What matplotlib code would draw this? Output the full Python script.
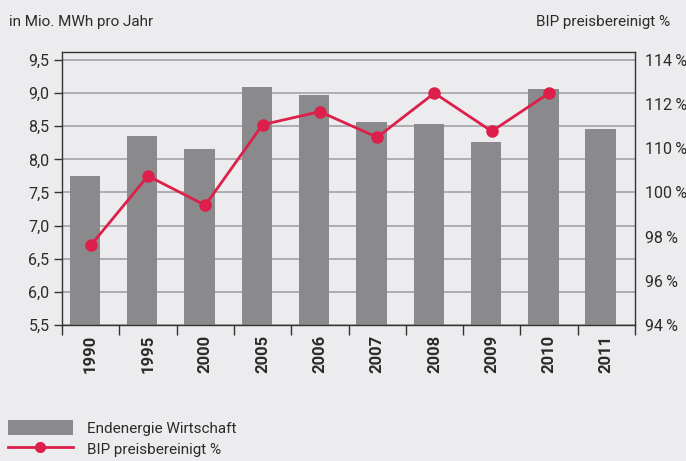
import matplotlib
matplotlib.use("Agg")
import matplotlib.pyplot as plt
from matplotlib.lines import Line2D
from matplotlib.patches import Patch

plt.rcParams['font.family'] = ['Roboto', 'DejaVu Sans']

# data
years = ['1990', '1995', '2000', '2005', '2006', '2007', '2008', '2009', '2010', '2011']
endenergie = [7.75, 8.35, 8.16, 9.09, 8.97, 8.56, 8.53, 8.26, 9.06, 8.46]
# BIP on the right axis (positions of the evenly spaced right ticks)
bip = [97.6, 100.75, 99.42, 103.07, 103.66, 102.5, 104.5, 102.77, 104.5]
left_ticks = [5.5, 6.0, 6.5, 7.0, 7.5, 8.0, 8.5, 9.0, 9.5]
left_labels = ['5,5', '6,0', '6,5', '7,0', '7,5', '8,0', '8,5', '9,0', '9,5']
right_ticks = [94, 96, 98, 100, 102, 104, 106]
right_labels = ['94\u2009%', '96\u2009%', '98\u2009%', '100\u2009%', '110\u2009%', '112\u2009%', '114\u2009%']

bg = '#ececee'
bar_col = '#8a8a8d'
red = '#dc1f4b'
txt = '#2b2b2b'
fs = 11

fig = plt.figure(figsize=(6.86, 4.61), dpi=100, facecolor=bg)
ax = fig.add_axes([62/686, 1-325/461, 573/686, 273/461])
ax.set_facecolor(bg)

x = list(range(len(years)))
ax.bar([i - 0.1 for i in x], endenergie, width=0.53, color=bar_col, zorder=2)
ax.set_ylim(5.5, 5.5 + 273/66.25)
ax.set_xlim(-0.5, len(years) - 0.5)
ax.set_yticks(left_ticks)
ax.set_yticklabels(left_labels)
ax.grid(axis='y', color='#a9a9ab', linewidth=1.3, zorder=1)
ax.set_axisbelow(True)

# x ticks at category boundaries, labels at centres
ax.set_xticks([i - 0.5 for i in range(len(years) + 1)])
ax.set_xticklabels([])
ax.set_xticks(x, minor=True)
ax.set_xticklabels(years, minor=True, rotation=90, fontweight='bold', fontsize=12, color=txt)
ax.tick_params(axis='x', which='major', length=7, width=1, color='#333333', direction='out')
ax.tick_params(axis='x', which='minor', length=0, pad=7)
ax.tick_params(axis='y', length=6, width=1, color='#333333', labelsize=11.5, labelcolor=txt, pad=3)

for s in ax.spines.values():
    s.set_color('#333333')
    s.set_linewidth(1)

ax2 = ax.twinx()
ax2.plot(x[:len(bip)], bip, color=red, linewidth=2, marker='o', markersize=8, zorder=3)
ax2.set_ylim(94, 94 + 273*2/44.17)
ax2.set_yticks(right_ticks)
ax2.set_yticklabels(right_labels)
ax2.tick_params(axis='y', length=0, labelsize=11.5, labelcolor=txt, pad=7)
for s in ax2.spines.values():
    s.set_visible(False)
# only the end ticks carry a mark on the right
ax2.set_yticks([94, 106], minor=True)
ax2.tick_params(axis='y', which='minor', length=6, width=1, color='#333333')

fig.text(9/686, 1-22/461, 'in Mio. MWh pro Jahr', ha='left', va='center', fontsize=fs, color=txt)
fig.text(670/686, 1-22/461, 'BIP preisbereinigt %', ha='right', va='center', fontsize=fs, color=txt)

handles = [Patch(facecolor=bar_col, edgecolor='none'),
           Line2D([0], [0], color=red, linewidth=2, marker='o', markersize=7)]
fig.legend(handles, ['Endenergie Wirtschaft', 'BIP preisbereinigt %'],
           loc='upper left', bbox_to_anchor=(0.0, 1-412/461), frameon=False,
           fontsize=fs, handlelength=4.3, handleheight=1.2, handletextpad=0.9,
           labelspacing=0.35, borderaxespad=0, borderpad=0.5, labelcolor=txt)

fig.savefig('out.png', dpi=100, facecolor=bg)
